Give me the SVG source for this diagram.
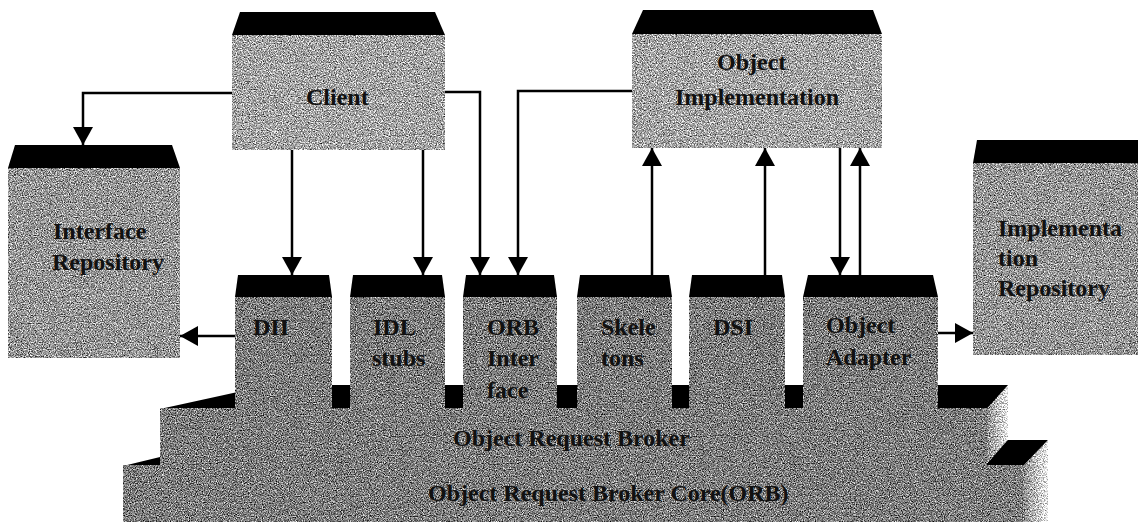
<svg xmlns="http://www.w3.org/2000/svg" width="1138" height="522" viewBox="0 0 1138 522">
<style>
  .cap { fill: #000; }
  .body { filter: url(#grain); }
  .lt { fill: #a4a4a4; }
  .md { fill: #959595; }
  .dk { fill: #7c7c7c; }
  .lbl { font-family: "Liberation Serif", "Times New Roman", serif; font-weight: bold; font-size: 24px; fill: #111; }
  .conn { fill: none; stroke: #000; stroke-width: 2.5; marker-end: url(#arr); }
</style>
<defs>
  <filter id="grain" x="0" y="0" width="1" height="1" color-interpolation-filters="sRGB">
    <feTurbulence type="fractalNoise" baseFrequency="0.85" numOctaves="2" seed="7" result="n"/>
    <feColorMatrix in="n" type="matrix" values="1 0 0 0 0  1 0 0 0 0  1 0 0 0 0  0 0 0 0 1" result="g"/>
    <feComposite in="SourceGraphic" in2="g" operator="arithmetic" k1="0" k2="1" k3="1.6" k4="-0.8" result="m"/>
    <feComposite in="m" in2="SourceAlpha" operator="in"/>
  </filter>
  <linearGradient id="side" x1="0" y1="0" x2="1" y2="0">
    <stop offset="0" stop-color="#8a8a8a"/>
    <stop offset="1" stop-color="#f2f2f2"/>
  </linearGradient>
  <marker id="arr" viewBox="0 0 18 20" refX="18" refY="10" markerWidth="18" markerHeight="20" markerUnits="userSpaceOnUse" orient="auto">
    <path d="M0,0 L18,10 L0,20 z" fill="#000"/>
  </marker>
</defs>

<!-- ORB core layer (bottom) -->
<g id="orb-core">
  <polygon class="cap" points="123,466 1023,466 1048,440 230,440"/>
  <polygon class="body" fill="url(#side)" points="1023,466 1048,440 1048,522 1023,522"/>
  <rect class="body dk" x="123" y="465" width="900" height="57"/>
  <text class="lbl" x="428" y="501">Object Request Broker Core(ORB)</text>
</g>

<!-- ORB layer (upper) -->
<g id="orb">
  <polygon class="cap" points="160,409 987,409 1008,385 270,385"/>
  <polygon class="body" fill="url(#side)" points="987,408 1008,385 1008,440 987,464"/>
  <rect class="body dk" x="160" y="408" width="827" height="57"/>
  <text class="lbl" x="453" y="446">Object Request Broker</text>
</g>

<!-- Client -->
<g id="client">
  <polygon class="cap" points="240,12 435,12 445,35 232,35"/>
  <rect class="body lt" x="232" y="35" width="213" height="115"/>
  <text class="lbl" x="306" y="105">Client</text>
</g>

<!-- Object Implementation -->
<g id="object-implementation">
  <polygon class="cap" points="643,10 873,10 882,34 632,34"/>
  <rect class="body lt" x="632" y="34" width="250" height="114"/>
  <text class="lbl" x="717" y="70">Object</text>
  <text class="lbl" x="675" y="105">Implementation</text>
</g>

<!-- Interface Repository -->
<g id="interface-repository">
  <polygon class="cap" points="15,145 172,145 180,168 8,168"/>
  <rect class="body md" x="8" y="168" width="172" height="190"/>
  <text class="lbl" x="53" y="239">Interface</text>
  <text class="lbl" x="52" y="270">Repository</text>
</g>

<!-- Implementation Repository -->
<g id="implementation-repository">
  <polygon class="cap" points="977,140 1138,140 1138,163 973,163"/>
  <rect class="body md" x="973" y="163" width="165" height="192"/>
  <text class="lbl" x="998" y="236">Implementa</text>
  <text class="lbl" x="998" y="266">tion</text>
  <text class="lbl" x="998" y="296">Repository</text>
</g>

<!-- DII -->
<g id="dii">
  <polygon class="cap" points="238,275 329,275 332,297 235,297"/>
  <rect class="body dk" x="235" y="297" width="97" height="113"/>
  <text class="lbl" x="253" y="335">DII</text>
</g>

<!-- IDL stubs -->
<g id="idl-stubs">
  <polygon class="cap" points="353,275 442,275 445,297 350,297"/>
  <rect class="body dk" x="350" y="297" width="95" height="113"/>
  <text class="lbl" x="373" y="335">IDL</text>
  <text class="lbl" x="372" y="366">stubs</text>
</g>

<!-- ORB Interface -->
<g id="orb-interface">
  <polygon class="cap" points="466,275 554,275 557,297 463,297"/>
  <rect class="body dk" x="463" y="297" width="94" height="113"/>
  <text class="lbl" x="487" y="335">ORB</text>
  <text class="lbl" x="487" y="366">Inter</text>
  <text class="lbl" x="487" y="398">face</text>
</g>

<!-- Skeletons -->
<g id="skeletons">
  <polygon class="cap" points="580,275 669,275 672,297 577,297"/>
  <rect class="body dk" x="577" y="297" width="95" height="113"/>
  <text class="lbl" x="601" y="335">Skele</text>
  <text class="lbl" x="601" y="366">tons</text>
</g>

<!-- DSI -->
<g id="dsi">
  <polygon class="cap" points="692,275 782,275 785,297 689,297"/>
  <rect class="body dk" x="689" y="297" width="96" height="113"/>
  <text class="lbl" x="713" y="335">DSI</text>
</g>

<!-- Object Adapter -->
<g id="object-adapter">
  <polygon class="cap" points="808,275 933,275 938,297 803,297"/>
  <rect class="body dk" x="803" y="297" width="135" height="113"/>
  <text class="lbl" x="826" y="333">Object</text>
  <text class="lbl" x="826" y="365">Adapter</text>
</g>

<!-- Connectors -->
<g id="connectors">
  <path class="conn" d="M232,93 H83 V145"/>
  <path class="conn" d="M292,150 V275"/>
  <path class="conn" d="M423,150 V275"/>
  <path class="conn" d="M445,92 H480 V275"/>
  <path class="conn" d="M632,91 H518 V275"/>
  <path class="conn" d="M652,275 V148"/>
  <path class="conn" d="M765,275 V148"/>
  <path class="conn" d="M840,148 V275"/>
  <path class="conn" d="M860,275 V148"/>
  <path class="conn" d="M235,336 H180"/>
  <path class="conn" d="M938,333 H973"/>
</g>
</svg>
